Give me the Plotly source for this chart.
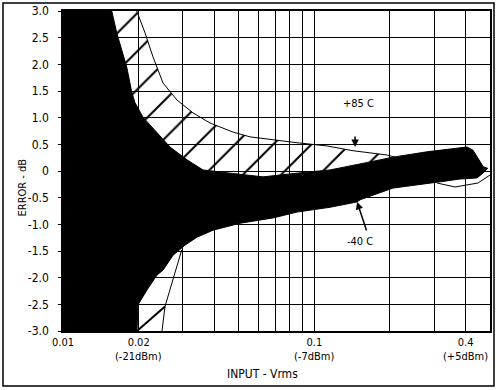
import numpy as np
import plotly.graph_objects as go

# ---- data ----
# black error band: upper edge (left -> right)
band_up_x = [0.01, 0.01563, 0.01636, 0.01793, 0.01877, 0.01934, 0.02081, 0.02366, 0.02665, 0.03114,
             0.03606, 0.04618, 0.05548, 0.06249, 0.0853, 0.1154, 0.1666, 0.2056, 0.2808, 0.3798,
             0.4051, 0.428, 0.47, 0.49]
band_up_y = [3.0, 3.0, 2.59, 1.95, 1.48, 1.28, 1.01, 0.71, 0.45, 0.21,
             0.02, -0.04, -0.09, -0.11, -0.04, 0.02, 0.17, 0.26, 0.36, 0.43,
             0.45, 0.39, 0.08, 0.05]
# black error band: lower edge (right -> left)
band_lo_x = [0.469, 0.444, 0.3798, 0.331, 0.3077, 0.2808, 0.2056, 0.152, 0.1479, 0.1154,
             0.0988, 0.0853, 0.06848, 0.05062, 0.03953, 0.03414, 0.03058, 0.0274, 0.025, 0.02366,
             0.02159, 0.01988, 0.0197, 0.01]
band_lo_y = [-0.04, -0.13, -0.15, -0.19, -0.21, -0.23, -0.32, -0.54, -0.58, -0.68,
             -0.73, -0.77, -0.88, -0.98, -1.11, -1.24, -1.39, -1.58, -1.86, -1.95,
             -2.23, -2.51, -3.0, -3.0]

# +85 C curve
p85_x = [0.01965, 0.0212, 0.02281, 0.025, 0.02842, 0.03291, 0.03845, 0.04747, 0.05548, 0.06848,
         0.0853, 0.1123, 0.1425, 0.1666, 0.1946, 0.2094]
p85_y = [3.0, 2.59, 2.14, 1.65, 1.33, 1.09, 0.90, 0.73, 0.64, 0.58,
         0.53, 0.47, 0.38, 0.34, 0.30, 0.26]

# -40 C curve pieces
m40_x = [0.02477, 0.02546, 0.02967]
m40_y = [-3.0, -2.54, -1.48]
m40_edge_x = [0.0197, 0.02546]
m40_edge_y = [-3.0, -2.54]
m40_right_x = [0.3077, 0.363, 0.448, 0.5]
m40_right_y = [-0.225, -0.30, -0.225, -0.075]

x_tickvals = [0.01, 0.02, 0.1, 0.4]
x_ticktext = ["0.01", "0.02", "0.1", "0.4"]
x_subtext = ["", "(-21dBm)", "(-7dBm)", "(+5dBm)"]
x_minor = [0.03, 0.04, 0.05, 0.06, 0.07, 0.08, 0.09, 0.2, 0.3]
y_tickvals = [3.0, 2.5, 2.0, 1.5, 1.0, 0.5, 0, -0.5, -1.0, -1.5, -2.0, -2.5, -3.0]
y_ticktext = ["3.0", "2.5", "2.0", "1.5", "1.0", "0.5", "0", "-0.5", "-1.0", "-1.5", "-2.0", "-2.5", "-3.0"]

FONT = "DejaVu Sans Condensed, Liberation Sans Narrow, Liberation Sans, Arial, sans-serif"

fig = go.Figure()

# hatched region between +85 curve and black band
n_up = 18  # band upper points up to x=0.2056
hatch_x = p85_x + band_up_x[1:n_up][::-1]
hatch_y = p85_y + band_up_y[1:n_up][::-1]
fig.add_trace(go.Scatter(
    x=hatch_x, y=hatch_y, mode="lines", fill="toself",
    fillcolor="rgba(0,0,0,0)", line=dict(width=0, color="black"),
    fillpattern=dict(shape="/", fgcolor="#000000", fgopacity=1, bgcolor="rgba(0,0,0,0)",
                     size=27, solidity=0.075),
    hoverinfo="skip", showlegend=False))

# +85 C line
fig.add_trace(go.Scatter(x=p85_x, y=p85_y, mode="lines",
                         line=dict(color="black", width=1), showlegend=False))

# black band
fig.add_trace(go.Scatter(x=band_up_x + band_lo_x, y=band_up_y + band_lo_y, mode="lines",
                         fill="toself", fillcolor="black", line=dict(color="black", width=1),
                         showlegend=False))

# -40 C curve pieces
fig.add_trace(go.Scatter(x=m40_x, y=m40_y, mode="lines",
                         line=dict(color="black", width=1), showlegend=False))
fig.add_trace(go.Scatter(x=m40_edge_x, y=m40_edge_y, mode="lines",
                         line=dict(color="black", width=2), showlegend=False))
fig.add_trace(go.Scatter(x=m40_right_x, y=m40_right_y, mode="lines",
                         line=dict(color="black", width=1), showlegend=False))

fig.update_xaxes(type="log", range=[-2, np.log10(0.5)], automargin=False,
                 tickvals=x_tickvals, ticktext=x_ticktext,
                 showgrid=True, gridcolor="black", gridwidth=1,
                 minor=dict(tickvals=x_minor, showgrid=True, gridcolor="black", gridwidth=1, ticks=""),
                 showline=True, mirror=True, linecolor="black", linewidth=1.5,
                 ticks="", zeroline=False, ticklabelstandoff=0,
                 tickfont=dict(family=FONT, size=11, color="black"))
fig.update_yaxes(range=[-3, 3], tickvals=y_tickvals, ticktext=y_ticktext, automargin=False,
                 showgrid=True, gridcolor="black", gridwidth=1,
                 showline=True, mirror=True, linecolor="black", linewidth=1.5,
                 ticks="outside", ticklen=3, tickcolor="black", ticklabelstandoff=7,
                 zeroline=False,
                 tickfont=dict(family=FONT, size=12, color="black"))

ann = []
for v, t in zip(x_tickvals, x_subtext):
    if t:
        ann.append(dict(x=np.log10(v), y=(331 - 356) / 320, xref="x", yref="paper",
                        text=t, showarrow=False, yanchor="middle",
                        font=dict(family=FONT, size=11, color="black")))
ann.append(dict(x=np.log10(0.1492), y=1.275, text="+85 C", showarrow=False,
                font=dict(family=FONT, size=11, color="black")))
ann.append(dict(x=np.log10(0.152), y=-1.33, text="-40 C", showarrow=False,
                font=dict(family=FONT, size=11, color="black")))
ann.append(dict(x=np.log10(0.1452), y=0.45, ax=0, ay=-12, text="", showarrow=True,
                arrowhead=2, arrowsize=1, arrowwidth=1.5, arrowcolor="black", standoff=0))
ann.append(dict(x=np.log10(0.1479), y=-0.58, ax=10, ay=30, text="", showarrow=True,
                arrowhead=2, arrowsize=1, arrowwidth=1.5, arrowcolor="black", standoff=0))
ann.append(dict(x=(262 - 63) / 427, y=(331 - 374) / 320, xref="paper", yref="paper",
                text="INPUT - Vrms", showarrow=False, yanchor="middle",
                font=dict(family=FONT, size=12, color="black")))
ann.append(dict(x=(13 - 63) / 427, y=(331 - 188) / 320, xref="paper", yref="paper",
                text="ERROR - dB", textangle=-90, showarrow=False,
                font=dict(family=FONT, size=11, color="black")))

fig.update_layout(
    width=497, height=390,
    margin=dict(l=63, r=7, t=11, b=59, autoexpand=False),
    paper_bgcolor="white", plot_bgcolor="white",
    annotations=ann,
    shapes=[dict(type="rect", xref="paper", yref="paper",
                 x0=(3 - 63) / 427, x1=(494 - 63) / 427,
                 y0=(331 - 386) / 320, y1=(331 - 3) / 320,
                 line=dict(color="black", width=1.5), fillcolor="rgba(0,0,0,0)", layer="above")],
)

fig.write_html("out.html", config={"displayModeBar": False},
               post_script="document.body.style.margin='0';document.body.style.overflow='hidden';")
